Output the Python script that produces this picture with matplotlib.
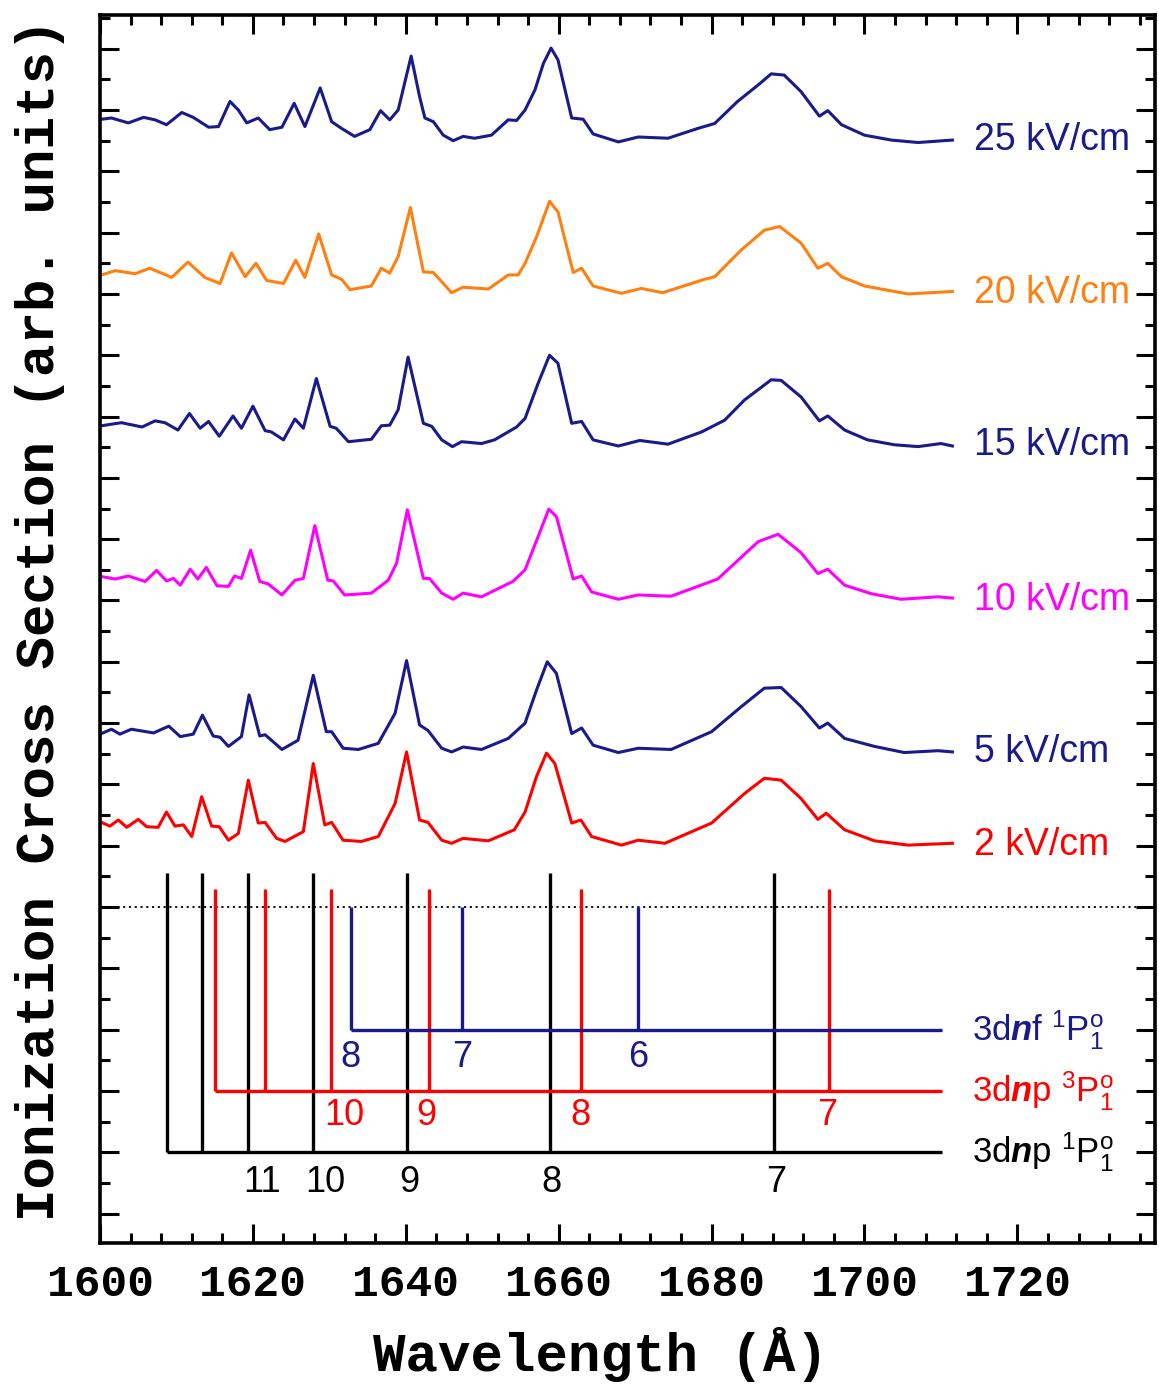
import matplotlib
matplotlib.use("Agg")
import matplotlib.pyplot as plt
from matplotlib.ticker import MultipleLocator

# ---------------- data ----------------
wl_25 = [1600.2, 1601.5, 1603.7, 1605.7, 1607.2, 1608.7, 1610.7, 1612.2, 1614.2, 1615.5,
         1617.0, 1618.1, 1619.2, 1620.7, 1622.2, 1623.8, 1625.4, 1626.8, 1628.8, 1630.3,
         1631.6, 1633.3, 1635.3, 1636.7, 1637.9, 1639.0, 1640.7, 1641.8, 1642.5, 1643.6,
         1644.9, 1646.2, 1647.5, 1649.0, 1651.2, 1653.4, 1654.5,
         1655.6, 1656.9, 1658.0, 1659.0, 1659.9, 1661.7, 1663.2, 1664.5, 1667.8, 1670.4,
         1674.3, 1678.2, 1680.4, 1683.4, 1686.1, 1687.8, 1689.5, 1691.7, 1694.1, 1695.2,
         1697.0, 1700.0, 1703.5, 1707.0, 1711.5]
y_25 = [12.85, 12.87, 12.79, 12.88, 12.84, 12.76, 12.96, 12.88, 12.72, 12.73,
        13.14, 13.00, 12.79, 12.87, 12.68, 12.72, 13.11, 12.73, 13.36, 12.81,
        12.70, 12.57, 12.68, 12.99, 12.84, 13.00, 13.88, 13.22, 12.87, 12.81,
        12.59, 12.50, 12.57, 12.54, 12.59, 12.84, 12.83,
        13.00, 13.33, 13.76, 14.01, 13.82, 12.87, 12.85, 12.61, 12.48, 12.56,
        12.54, 12.70, 12.78, 13.14, 13.41, 13.59, 13.57, 13.30, 12.90, 12.99,
        12.76, 12.59, 12.51, 12.47, 12.51]

wl_20 = [1600.2, 1602.0, 1604.6, 1606.5, 1609.4, 1611.5, 1613.7, 1615.7, 1617.2, 1619.0,
         1620.4, 1621.8, 1624.0, 1625.6, 1626.8, 1628.6, 1630.3, 1631.6, 1632.7, 1635.5,
         1636.8, 1637.9, 1639.0, 1640.6, 1642.3, 1643.6, 1646.0, 1647.5, 1650.8, 1653.4,
         1654.7,
         1655.6, 1657.1, 1658.8, 1659.9, 1661.9, 1663.0, 1664.5, 1668.2, 1670.8, 1673.6,
         1679.1, 1680.4, 1683.9, 1686.9, 1688.9, 1691.7, 1693.9, 1695.2, 1697.0, 1700.0,
         1705.7, 1711.5]
y_20 = [10.31, 10.38, 10.33, 10.42, 10.27, 10.52, 10.27, 10.17, 10.67, 10.28,
        10.50, 10.22, 10.17, 10.55, 10.27, 10.98, 10.31, 10.24, 10.07, 10.13,
        10.42, 10.34, 10.61, 11.41, 10.36, 10.35, 10.02, 10.11, 10.08, 10.31,
        10.31,
        10.50, 10.93, 11.51, 11.34, 10.35, 10.42, 10.13, 10.01, 10.09, 10.02,
        10.24, 10.28, 10.72, 11.04, 11.10, 10.83, 10.42, 10.50, 10.28, 10.13,
        10.00, 10.04]

wl_15 = [1600.2, 1602.8, 1605.5, 1607.2, 1608.5, 1610.2, 1611.7, 1613.1, 1614.2, 1615.6,
         1617.4, 1618.5, 1620.0, 1621.6, 1622.4, 1624.0, 1625.5, 1626.6, 1628.3, 1630.1,
         1630.9, 1632.5, 1635.5, 1636.8, 1637.9, 1639.0, 1640.3, 1642.3, 1643.4, 1644.7,
         1646.1, 1647.3, 1649.9, 1651.6, 1654.5,
         1655.6, 1657.3, 1658.8, 1659.9, 1661.7, 1663.0, 1664.5, 1667.8, 1670.6, 1674.3,
         1678.7, 1681.7, 1684.3, 1687.8, 1689.1, 1691.7, 1694.1, 1695.2, 1697.4, 1700.4,
         1703.9, 1707.0, 1710.0, 1711.5]
y_15 = [7.85, 7.90, 7.83, 7.93, 7.90, 7.78, 8.05, 7.81, 7.92, 7.68,
        8.01, 7.81, 8.17, 7.77, 7.75, 7.62, 7.96, 7.81, 8.62, 7.84,
        7.81, 7.59, 7.63, 7.85, 7.86, 8.11, 8.97, 7.89, 7.84, 7.62,
        7.51, 7.59, 7.56, 7.62, 7.83,
        7.97, 8.54, 9.00, 8.87, 7.89, 7.92, 7.62, 7.52, 7.61, 7.55,
        7.75, 7.94, 8.27, 8.60, 8.59, 8.32, 7.93, 8.01, 7.78, 7.62,
        7.54, 7.51, 7.56, 7.52]

wl_10 = [1600.2, 1602.0, 1603.7, 1605.9, 1607.4, 1608.7, 1609.6, 1610.5, 1611.8, 1612.8,
         1613.9, 1615.3, 1616.8, 1617.6, 1618.5, 1619.7, 1620.9, 1622.0, 1623.8, 1625.5,
         1626.6, 1628.1, 1629.8, 1630.5, 1632.0, 1635.5, 1637.7, 1638.8, 1640.2, 1642.3,
         1643.1, 1644.7, 1646.2, 1647.5, 1649.9, 1654.0,
         1655.6, 1657.3, 1658.7, 1659.7, 1661.9, 1663.0, 1664.3, 1667.8, 1670.4, 1674.7,
         1680.8, 1686.1, 1688.7, 1691.7, 1693.9, 1695.2, 1697.4, 1700.9, 1704.8, 1709.6,
         1711.5]
y_10 = [5.39, 5.35, 5.40, 5.31, 5.49, 5.32, 5.36, 5.25, 5.51, 5.35,
        5.54, 5.24, 5.23, 5.40, 5.36, 5.82, 5.31, 5.27, 5.09, 5.33,
        5.36, 6.22, 5.33, 5.32, 5.09, 5.12, 5.33, 5.61, 6.48, 5.36,
        5.36, 5.12, 5.02, 5.12, 5.06, 5.31,
        5.50, 6.04, 6.49, 6.37, 5.35, 5.40, 5.14, 5.02, 5.09, 5.07,
        5.35, 5.96, 6.08, 5.78, 5.44, 5.51, 5.25, 5.11, 5.02, 5.06,
        5.04]

wl_5 = [1600.2, 1601.5, 1602.6, 1604.1, 1607.0, 1609.0, 1610.5, 1612.2, 1613.4, 1614.8,
        1615.7, 1616.8, 1618.5, 1619.5, 1620.9, 1621.6, 1623.8, 1625.9, 1627.9, 1629.6,
        1630.3, 1631.8, 1633.8, 1636.4, 1638.6, 1640.1, 1641.8, 1642.9, 1644.7, 1646.0,
        1647.5, 1649.9, 1653.4,
        1655.6, 1657.1, 1658.5, 1659.7, 1661.7, 1663.0, 1664.5, 1667.8, 1670.4, 1674.7,
        1680.0, 1683.9, 1686.9, 1689.1, 1691.7, 1694.1, 1695.2, 1697.4, 1701.3, 1705.2,
        1709.6, 1711.5]
y_5 = [2.83, 2.90, 2.82, 2.90, 2.84, 2.95, 2.78, 2.82, 3.13, 2.79,
       2.77, 2.62, 2.78, 3.46, 2.79, 2.81, 2.57, 2.72, 3.78, 2.86,
       2.86, 2.59, 2.57, 2.67, 3.16, 4.02, 2.97, 2.88, 2.59, 2.53,
       2.61, 2.57, 2.75,
       3.00, 3.54, 4.00, 3.81, 2.83, 2.92, 2.64, 2.52, 2.59, 2.57,
       2.86, 3.27, 3.57, 3.58, 3.27, 2.92, 3.00, 2.75, 2.62, 2.52,
       2.55, 2.53]

wl_2 = [1600.2, 1601.3, 1602.4, 1603.5, 1605.0, 1606.1, 1607.6, 1608.7, 1609.8, 1610.9,
        1612.0, 1613.3, 1614.6, 1615.6, 1616.8, 1618.1, 1619.4, 1620.7, 1621.6, 1623.1,
        1624.2, 1626.6, 1627.9, 1629.4, 1630.3, 1631.8, 1634.2, 1636.4, 1638.6, 1640.1,
        1641.8, 1642.9, 1644.7, 1646.0, 1647.5, 1650.8, 1654.2,
        1655.6, 1657.1, 1658.4, 1659.5, 1661.7, 1662.9, 1664.3, 1668.2, 1670.4, 1673.9,
        1680.0, 1684.3, 1686.9, 1689.1, 1691.7, 1693.9, 1695.0, 1697.4, 1701.3, 1705.7,
        1711.5]
y_2 = [1.38, 1.32, 1.42, 1.30, 1.43, 1.31, 1.30, 1.55, 1.32, 1.34,
       1.15, 1.80, 1.32, 1.31, 1.09, 1.20, 2.07, 1.37, 1.38, 1.12,
       1.07, 1.23, 2.34, 1.34, 1.38, 1.09, 1.07, 1.15, 1.69, 2.53,
       1.42, 1.38, 1.09, 1.04, 1.12, 1.08, 1.26,
       1.55, 2.13, 2.51, 2.34, 1.37, 1.42, 1.15, 1.01, 1.09, 1.04,
       1.37, 1.85, 2.10, 2.07, 1.77, 1.43, 1.53, 1.26, 1.08, 1.01,
       1.04]

field_labels = ["25 kV/cm", "20 kV/cm", "15 kV/cm", "10 kV/cm", "5 kV/cm", "2 kV/cm"]
field_label_y = [12.51, 10.02, 7.54, 5.01, 2.53, 1.01]

# Rydberg series sticks
np1_wl = [1608.8, 1613.4, 1619.4, 1627.8, 1640.2, 1658.8, 1688.1]
np1_labels = ["11", "10", "9", "8", "7"]
np1_label_wl = [1621.2, 1629.5, 1640.5, 1659.1, 1688.4]
np3_wl = [1615.0, 1621.6, 1630.2, 1643.0, 1662.9, 1695.3]
np3_labels = ["10", "9", "8", "7"]
np3_label_wl = [1632.0, 1642.7, 1662.9, 1695.1]
nf_wl = [1632.8, 1647.4, 1670.4]
nf_labels = ["8", "7", "6"]
nf_label_wl = [1632.8, 1647.4, 1670.4]

series_names = [r"3d$\mathbfit{n}$f $^{1}$P$^{\mathrm{o}}_{1}$",
                r"3d$\mathbfit{n}$p $^{3}$P$^{\mathrm{o}}_{1}$",
                r"3d$\mathbfit{n}$p $^{1}$P$^{\mathrm{o}}_{1}$"]

# ---------------- style ----------------
NAVY = "#1a1a8a"
ORANGE = "#ff8010"
MAGENTA = "#ff00ff"
RED = "#ff0000"
BLACK = "#000000"

plt.rcParams['mathtext.fontset'] = 'custom'
plt.rcParams['mathtext.rm'] = 'Liberation Sans'
plt.rcParams['mathtext.it'] = 'Liberation Sans:italic'
plt.rcParams['mathtext.bf'] = 'Liberation Sans:bold'
try:
    plt.rcParams['mathtext.bfit'] = 'Liberation Sans:bold:italic'
except KeyError:
    series_names = [s.replace(r"\mathbfit", r"\mathbf") for s in series_names]

W, H = 1159, 1384
fig = plt.figure(figsize=(W / 100, H / 100), dpi=100)
ax = fig.add_axes([100 / W, 1 - 1243 / H, 1055 / W, 1228 / H])

ax.set_xlim(1600, 1738)
ax.set_ylim(-5.48, 14.55)

# spectra
spectra = [(wl_25, y_25, NAVY), (wl_20, y_20, ORANGE), (wl_15, y_15, NAVY),
           (wl_10, y_10, MAGENTA), (wl_5, y_5, NAVY), (wl_2, y_2, RED)]
for (wl, yy, c), lab, ly in zip(spectra, field_labels, field_label_y):
    ax.plot(wl, yy, color=c, lw=2.2, solid_joinstyle='round')
    ax.text(1714.3, ly, lab, color=c, fontsize=27, family='Liberation Sans',
            ha='left', va='center')

# dotted threshold line
ax.axhline(0, color='black', lw=1.3, ls=(0, (1.2, 2.0)))

# stick diagrams
x_end = 1710.1
sticks = [(np1_wl, 0.55, -4.0, BLACK, np1_labels, np1_label_wl, -4.50, series_names[2]),
          (np3_wl, 0.29, -3.0, RED, np3_labels, np3_label_wl, -3.40, series_names[1]),
          (nf_wl, 0.0, -2.0, NAVY, nf_labels, nf_label_wl, -2.46, series_names[0])]
for wl, top, base, c, labs, labx, laby, name in sticks:
    ax.vlines(wl, base, top, color=c, lw=2.4)
    ax.hlines(base, min(wl), x_end, color=c, lw=2.4)
    for t, xl in zip(labs, labx):
        ax.text(xl, laby, t, color=c, fontsize=26, family='Liberation Sans',
                ha='center', va='center')
    ax.text(1714.0, base, name, color=c, fontsize=25, family='Liberation Sans',
            ha='left', va='center')

# axes styling
ax.xaxis.set_major_locator(MultipleLocator(20))
ax.xaxis.set_minor_locator(MultipleLocator(4))
ax.yaxis.set_major_locator(MultipleLocator(1))
ax.yaxis.set_minor_locator(MultipleLocator(0.5))
ax.tick_params(which='both', direction='in', top=True, right=True, width=2.2)
ax.tick_params(which='major', length=14)
ax.tick_params(which='minor', length=7)
ax.tick_params(axis='y', labelleft=False)
ax.tick_params(axis='x', pad=15)
for lbl in ax.get_xticklabels():
    lbl.set_fontfamily('Liberation Mono')
    lbl.set_fontweight('bold')
    lbl.set_fontsize(32)
for sp in ax.spines.values():
    sp.set_linewidth(2.6)

ax.set_xlabel("Wavelength (Å)", family='Liberation Mono', fontweight='bold',
              fontsize=39, va='center')
ax.xaxis.set_label_coords((600 - 100) / 1055, -(1355 - 1243) / 1228)
ax.set_ylabel("Ionization Cross Section (arb. units)", family='Liberation Mono',
              fontweight='bold', fontsize=39, va='center')
ax.yaxis.set_label_coords((40 - 100) / 1055, (1243 - 620) / 1228)

fig.savefig("out.png", dpi=100)
